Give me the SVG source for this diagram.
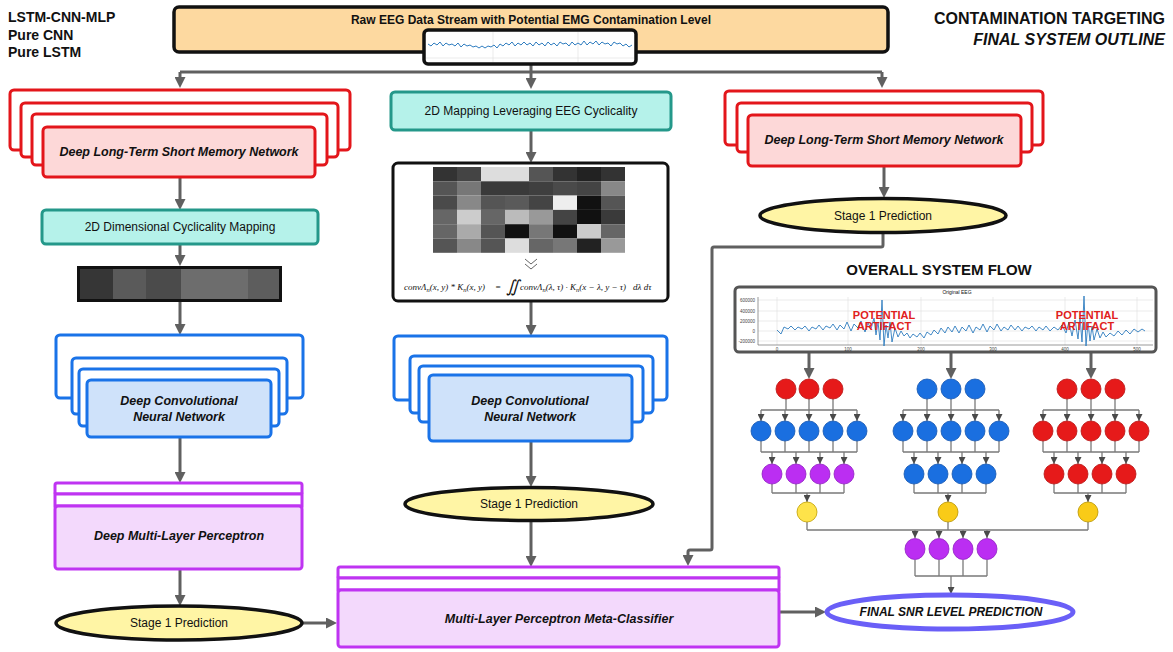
<svg xmlns="http://www.w3.org/2000/svg" width="1173" height="652" viewBox="0 0 1173 652">
<defs>
<style>
text{font-family:"Liberation Sans",Arial,sans-serif;fill:#111}
.b{font-weight:bold}
.bi{font-weight:bold;font-style:italic}
.s12{font-size:12px}
.s125{font-size:12.5px}
.con{stroke:#606060;stroke-width:3;fill:none}
.conA{stroke:#606060;stroke-width:3;fill:none;marker-end:url(#ah)}
.redB{fill:#fff;stroke:#e3161b;stroke-width:3}
.redF{fill:#fdd8d8;stroke:#e3161b;stroke-width:3}
.bluB{fill:#fff;stroke:#1a73e8;stroke-width:3}
.bluF{fill:#cfe2fa;stroke:#1a73e8;stroke-width:3}
.purB{fill:#fff;stroke:#bf34f2;stroke-width:3}
.purF{fill:#f3d9fc;stroke:#bf34f2;stroke-width:3}
.teal{fill:#b5f2ea;stroke:#24988a;stroke-width:3}
.yel{fill:#fff5a5;stroke:#111;stroke-width:3.5}
.nl{stroke:#7a7a7a;stroke-width:1.3;fill:none}
.na{stroke:#7a7a7a;stroke-width:1.3;fill:none;marker-end:url(#sa)}
.nr{fill:#e61a1a;stroke:#b81414;stroke-width:.8}
.nb{fill:#1a6fe0;stroke:#1456b0;stroke-width:.8}
.np{fill:#bb2ef2;stroke:#8f20c2;stroke-width:.8}
.ny{fill:#f9cb18;stroke:#b89400;stroke-width:.8}
.ny1{fill:#fee34a;stroke:#c0a000;stroke-width:.8}
.grid{stroke:#e2e2e2;stroke-width:.7}
.tick{font-size:4.5px;fill:#444}
.fm{font-family:"Liberation Serif","Times New Roman",serif;font-style:italic;font-size:9px}
.art{font-size:11px;font-weight:bold;fill:#e0201c}
</style>
<marker id="ah" markerWidth="11" markerHeight="11" refX="3" refY="5.5" orient="auto" markerUnits="userSpaceOnUse"><path d="M0,0L11,5.5L0,11z" fill="#606060"/></marker>
<marker id="sa" markerWidth="7" markerHeight="7" refX="7" refY="3.5" orient="auto" markerUnits="userSpaceOnUse"><path d="M0,0L7,3.5L0,7z" fill="#4a4a4a"/></marker>
</defs>
<rect width="1173" height="652" fill="#fff"/>

<g id="legend">
<text x="8" y="22" class="b" font-size="14">LSTM-CNN-MLP</text>
<text x="8" y="40" class="b" font-size="14">Pure CNN</text>
<text x="8" y="57" class="b" font-size="14">Pure LSTM</text>
</g>
<g id="title">
<text x="1165" y="24" class="b" font-size="16" text-anchor="end">CONTAMINATION TARGETING</text>
<text x="1165" y="45" class="bi" font-size="16" text-anchor="end">FINAL SYSTEM OUTLINE</text>
</g>

<g id="connectors">
<path class="con" d="M531,64V72M180,72H882"/>
<path class="conA" d="M180,72V80"/>
<path class="conA" d="M531,72V81"/>
<path class="conA" d="M882,72V80"/>
<path class="conA" d="M180,177V202"/>
<path class="conA" d="M180,244V258"/>
<path class="conA" d="M180,302V327"/>
<path class="conA" d="M180,437V475"/>
<path class="conA" d="M180,569V598"/>
<path class="conA" d="M531,130V155"/>
<path class="conA" d="M531,302V328"/>
<path class="conA" d="M531,441V479"/>
<path class="conA" d="M531,520V559"/>
<path class="conA" d="M884,166V190"/>
<path class="conA" d="M883,233V245Q883,247 881,247H714Q712,247 712,249V548Q712,550 710,550H690Q688,550 688,552V558"/>
<path class="conA" d="M302,623H329"/>
<path class="conA" d="M779,612H818"/>
<path class="conA" d="M809,353V371"/>
<path class="conA" d="M951,353V371"/>
<path class="conA" d="M1091,353V371"/>
</g>

<g id="input">
<rect x="174" y="7" width="714" height="45" rx="5" fill="#fdd9a0" stroke="#111" stroke-width="3.5"/>
<text x="531" y="24" class="b s12" text-anchor="middle">Raw EEG Data Stream with Potential EMG Contamination Level</text>
<rect x="424" y="30" width="212" height="34" rx="4" fill="#fff" stroke="#111" stroke-width="3.5"/>
<path class="grid" d="M493,32V62M578,32V62M426,58H634"/>
<polyline fill="none" stroke="#2f7dc0" stroke-width="1" points="428,44 431,46 434,43 437,45 440,42 443,46 446,43 449,45 452,44 455,46 458,43 461,47 464,44 467,46 470,45 473,47 476,46 479,48 482,46 485,48 488,46 491,47 494,45 497,48 500,44 503,46 506,43 509,45 512,42 515,46 518,43 521,45 524,42 527,45 530,43 533,46 536,42 539,45 542,43 545,46 548,42 551,45 554,43 557,46 560,42 563,44 566,43 569,46 572,42 575,45 578,43 581,45 584,41 587,45 590,42 593,44 596,41 599,45 602,42 605,44 608,43 611,46 614,42 617,44 620,43 623,46 626,44 629,47 632,45"/>
</g>

<g id="lstm-left">
<rect class="redB" x="10" y="90" width="340" height="60" rx="4"/>
<rect class="redB" x="21" y="103" width="317" height="54" rx="4"/>
<rect class="redB" x="32" y="114" width="295" height="51" rx="4"/>
<rect class="redF" x="43" y="127" width="272" height="50" rx="4"/>
<text x="179" y="156" class="bi s125" text-anchor="middle">Deep Long-Term Short Memory Network</text>
</g>
<g id="map-left">
<rect class="teal" x="42" y="210" width="276" height="34" rx="4"/>
<text x="180" y="231" class="s12" text-anchor="middle">2D Dimensional Cyclicality Mapping</text>
</g>
<g id="bar-left">
<rect x="77" y="266" width="205" height="36" fill="#111"/>
<rect x="80" y="269" width="33" height="30" fill="#363636"/>
<rect x="113" y="269" width="33" height="30" fill="#5a5a5a"/>
<rect x="146" y="269" width="35" height="30" fill="#4b4b4b"/>
<rect x="181" y="269" width="67" height="30" fill="#6d6d6d"/>
<rect x="248" y="269" width="31" height="30" fill="#5d5d5d"/>
</g>
<g id="cnn-left">
<rect class="bluB" x="56" y="335" width="247" height="63" rx="4"/>
<rect class="bluB" x="72" y="358" width="215" height="56" rx="4"/>
<rect class="bluB" x="79" y="369" width="200" height="57" rx="4"/>
<rect class="bluF" x="87" y="380" width="184" height="57" rx="4"/>
<text x="179" y="405" class="bi s125" text-anchor="middle">Deep Convolutional</text>
<text x="179" y="421" class="bi s125" text-anchor="middle">Neural Network</text>
</g>
<g id="mlp-left">
<rect class="purB" x="55" y="483" width="247" height="11" rx="2"/>
<rect class="purB" x="55" y="494" width="247" height="12"/>
<rect class="purF" x="55" y="506" width="247" height="63" rx="3"/>
<text x="179" y="540" class="bi s125" text-anchor="middle">Deep Multi-Layer Perceptron</text>
</g>
<g id="pred-left">
<ellipse class="yel" cx="179" cy="623" rx="123" ry="17"/>
<text x="179" y="627" class="s12" text-anchor="middle">Stage 1 Prediction</text>
</g>

<g id="map-mid">
<rect class="teal" x="391" y="92" width="280" height="38" rx="4"/>
<text x="531" y="115" class="s12" text-anchor="middle">2D Mapping Leveraging EEG Cyclicality</text>
</g>
<g id="matrix-mid">
<rect x="393" y="163" width="275" height="138" rx="5" fill="#fff" stroke="#111" stroke-width="3"/>
<g>
<rect x="433" y="167" width="24" height="14.3" fill="#333"/><rect x="457" y="167" width="24" height="14.3" fill="#444"/><rect x="481" y="167" width="24" height="14.3" fill="#ddd"/><rect x="505" y="167" width="24" height="14.3" fill="#ddd"/><rect x="529" y="167" width="24" height="14.3" fill="#555"/><rect x="553" y="167" width="24" height="14.3" fill="#333"/><rect x="577" y="167" width="24" height="14.3" fill="#222"/><rect x="601" y="167" width="24" height="14.3" fill="#333"/>
<rect x="433" y="181.3" width="24" height="14.3" fill="#555"/><rect x="457" y="181.3" width="24" height="14.3" fill="#777"/><rect x="481" y="181.3" width="24" height="14.3" fill="#3a3a3a"/><rect x="505" y="181.3" width="24" height="14.3" fill="#3a3a3a"/><rect x="529" y="181.3" width="24" height="14.3" fill="#3f3f3f"/><rect x="553" y="181.3" width="24" height="14.3" fill="#4a4a4a"/><rect x="577" y="181.3" width="24" height="14.3" fill="#444"/><rect x="601" y="181.3" width="24" height="14.3" fill="#888"/>
<rect x="433" y="195.6" width="24" height="14.3" fill="#4a4a4a"/><rect x="457" y="195.6" width="24" height="14.3" fill="#888"/><rect x="481" y="195.6" width="24" height="14.3" fill="#555"/><rect x="505" y="195.6" width="24" height="14.3" fill="#5a5a5a"/><rect x="529" y="195.6" width="24" height="14.3" fill="#444"/><rect x="553" y="195.6" width="24" height="14.3" fill="#eee"/><rect x="577" y="195.6" width="24" height="14.3" fill="#111"/><rect x="601" y="195.6" width="24" height="14.3" fill="#555"/>
<rect x="433" y="209.9" width="24" height="14.3" fill="#666"/><rect x="457" y="209.9" width="24" height="14.3" fill="#ccc"/><rect x="481" y="209.9" width="24" height="14.3" fill="#666"/><rect x="505" y="209.9" width="24" height="14.3" fill="#bbb"/><rect x="529" y="209.9" width="24" height="14.3" fill="#999"/><rect x="553" y="209.9" width="24" height="14.3" fill="#444"/><rect x="577" y="209.9" width="24" height="14.3" fill="#111"/><rect x="601" y="209.9" width="24" height="14.3" fill="#3a3a3a"/>
<rect x="433" y="224.2" width="24" height="14.3" fill="#666"/><rect x="457" y="224.2" width="24" height="14.3" fill="#aaa"/><rect x="481" y="224.2" width="24" height="14.3" fill="#555"/><rect x="505" y="224.2" width="24" height="14.3" fill="#111"/><rect x="529" y="224.2" width="24" height="14.3" fill="#777"/><rect x="553" y="224.2" width="24" height="14.3" fill="#111"/><rect x="577" y="224.2" width="24" height="14.3" fill="#ccc"/><rect x="601" y="224.2" width="24" height="14.3" fill="#666"/>
<rect x="433" y="238.5" width="24" height="14.3" fill="#555"/><rect x="457" y="238.5" width="24" height="14.3" fill="#888"/><rect x="481" y="238.5" width="24" height="14.3" fill="#555"/><rect x="505" y="238.5" width="24" height="14.3" fill="#ddd"/><rect x="529" y="238.5" width="24" height="14.3" fill="#666"/><rect x="553" y="238.5" width="24" height="14.3" fill="#777"/><rect x="577" y="238.5" width="24" height="14.3" fill="#222"/><rect x="601" y="238.5" width="24" height="14.3" fill="#999"/>
</g>
<path d="M525,259L531,264L537,259M525,264L531,269L537,264" fill="none" stroke="#666" stroke-width="1"/>
<text class="fm" y="290"><tspan x="404">convΛ</tspan><tspan font-size="6.5" dy="2">n</tspan><tspan dy="-2">(x, y) * K</tspan><tspan font-size="6.5" dy="2">n</tspan><tspan dy="-2">(x, y)</tspan><tspan x="495">=</tspan><tspan x="506" font-size="17" dy="2">∬</tspan><tspan x="520" dy="-2">convΛ</tspan><tspan font-size="6.5" dy="2">n</tspan><tspan dy="-2">(λ, τ) · K</tspan><tspan font-size="6.5" dy="2">n</tspan><tspan dy="-2">(x − λ, y − τ)</tspan><tspan x="633">dλ dτ</tspan></text>
</g>
<g id="cnn-mid">
<rect class="bluB" x="394" y="336" width="273" height="64" rx="4"/>
<rect class="bluB" x="410" y="356" width="243" height="57" rx="4"/>
<rect class="bluB" x="419" y="366" width="224" height="56" rx="4"/>
<rect class="bluF" x="429" y="375" width="203" height="66" rx="4"/>
<text x="530" y="405" class="bi s125" text-anchor="middle">Deep Convolutional</text>
<text x="530" y="421" class="bi s125" text-anchor="middle">Neural Network</text>
</g>
<g id="pred-mid">
<ellipse class="yel" cx="529" cy="504" rx="124" ry="16.5"/>
<text x="529" y="508" class="s12" text-anchor="middle">Stage 1 Prediction</text>
</g>
<g id="meta">
<rect class="purB" x="338" y="567" width="441" height="11" rx="2"/>
<rect class="purB" x="338" y="578" width="441" height="12"/>
<rect class="purF" x="338" y="590" width="441" height="57" rx="3"/>
<text x="559" y="623" class="bi s125" text-anchor="middle">Multi-Layer Perceptron Meta-Classifier</text>
</g>

<g id="lstm-right">
<rect class="redB" x="725" y="91" width="318" height="54" rx="4"/>
<rect class="redB" x="737" y="103" width="295" height="49" rx="4"/>
<rect class="redF" x="748" y="115" width="273" height="51" rx="4"/>
<text x="884" y="144" class="bi s125" text-anchor="middle">Deep Long-Term Short Memory Network</text>
</g>
<g id="pred-right">
<ellipse class="yel" cx="883" cy="215.5" rx="123" ry="17"/>
<text x="883" y="220" class="s12" text-anchor="middle">Stage 1 Prediction</text>
</g>

<g id="flow-title">
<text x="939" y="275" class="b" font-size="15" text-anchor="middle">OVERALL SYSTEM FLOW</text>
</g>
<g id="eeg-chart">
<rect x="735" y="287" width="421" height="65" rx="4" fill="#fff" stroke="#555" stroke-width="3"/>
<path class="grid" d="M777,297V345M848,297V345M921,297V345M993,297V345M1065,297V345M1137,297V345M758,300H1153M758,311H1153M758,321H1153M758,331H1153M758,341H1153"/>
<path d="M758,297V345H1153" fill="none" stroke="#555" stroke-width=".6"/>
<text x="957" y="294" font-size="5" fill="#333" text-anchor="middle">Original EEG</text>
<text class="tick" x="755" y="302" text-anchor="end">600000</text>
<text class="tick" x="755" y="313" text-anchor="end">400000</text>
<text class="tick" x="755" y="323" text-anchor="end">200000</text>
<text class="tick" x="755" y="333" text-anchor="end">0</text>
<text class="tick" x="755" y="343" text-anchor="end">-200000</text>
<text class="tick" x="777" y="350.5" text-anchor="middle">0</text>
<text class="tick" x="848" y="350.5" text-anchor="middle">100</text>
<text class="tick" x="921" y="350.5" text-anchor="middle">200</text>
<text class="tick" x="993" y="350.5" text-anchor="middle">300</text>
<text class="tick" x="1065" y="350.5" text-anchor="middle">400</text>
<text class="tick" x="1137" y="350.5" text-anchor="middle">500</text>
<polyline fill="none" stroke="#2f7dc0" stroke-width="0.9" points="777,330 781,334 784,327 788,329 791,326 795,330 798,327 802,329 805,326 809,331 812,327 816,329 819,325 823,330 826,326 830,328 833,324 837,330 840,325 844,329 847,322 851,331 854,324 858,328 861,321 865,332 868,323 871,329 874,318 876,335 878,322 880,340 882,300 884,346 886,325 888,338 890,322 892,342 895,328 898,337 901,331 904,336 907,333 910,338 913,334 917,337 920,333 924,338 927,332 931,335 934,330 938,334 941,328 945,333 948,327 952,332 955,326 959,333 962,327 966,331 969,325 973,333 976,327 980,330 983,324 987,332 990,326 994,330 997,324 1001,331 1004,327 1008,330 1011,325 1015,330 1018,326 1022,331 1025,327 1029,329 1032,326 1036,331 1039,327 1043,330 1046,326 1050,331 1054,327 1058,330 1062,325 1066,333 1069,322 1072,336 1075,320 1078,339 1080,318 1082,342 1084,296 1086,346 1088,322 1090,341 1092,326 1094,340 1097,329 1100,338 1103,332 1106,337 1110,333 1114,336 1118,331 1122,335 1126,330 1130,334 1134,329 1138,332 1142,329 1145,331"/>
<text class="art" x="884" y="319" text-anchor="middle">POTENTIAL</text>
<text class="art" x="884" y="330" text-anchor="middle">ARTIFACT</text>
<text class="art" x="1087" y="319" text-anchor="middle">POTENTIAL</text>
<text class="art" x="1087" y="330" text-anchor="middle">ARTIFACT</text>
</g>

<g id="net-edges">
<path class="nl" d="M786,399V410M809,399V410M833,399V410M761,410H857"/>
<path class="na" d="M761,410V421"/><path class="na" d="M785,410V421"/><path class="na" d="M809,410V421"/><path class="na" d="M833,410V421"/><path class="na" d="M857,410V421"/>
<path class="nl" d="M761,441V452M785,441V452M809,441V452M833,441V452M857,441V452M761,452H857"/>
<path class="na" d="M772,452V464"/><path class="na" d="M796,452V464"/><path class="na" d="M820,452V464"/><path class="na" d="M844,452V464"/>
<path class="nl" d="M772,484V493M796,484V493M820,484V493M844,484V493M772,493H844"/>
<path class="na" d="M807,493V502"/>
<path class="nl" d="M927,399V410M951,399V410M975,399V410M903,410H999"/>
<path class="na" d="M903,410V421"/><path class="na" d="M927,410V421"/><path class="na" d="M951,410V421"/><path class="na" d="M975,410V421"/><path class="na" d="M999,410V421"/>
<path class="nl" d="M903,441V452M927,441V452M951,441V452M975,441V452M999,441V452M903,452H999"/>
<path class="na" d="M914,452V464"/><path class="na" d="M938,452V464"/><path class="na" d="M962,452V464"/><path class="na" d="M986,452V464"/>
<path class="nl" d="M914,484V493M938,484V493M962,484V493M986,484V493M914,493H986"/>
<path class="na" d="M948,493V502"/>
<path class="nl" d="M1067,399V410M1091,399V410M1115,399V410M1043,410H1139"/>
<path class="na" d="M1043,410V421"/><path class="na" d="M1067,410V421"/><path class="na" d="M1091,410V421"/><path class="na" d="M1115,410V421"/><path class="na" d="M1139,410V421"/>
<path class="nl" d="M1043,441V452M1067,441V452M1091,441V452M1115,441V452M1139,441V452M1043,452H1139"/>
<path class="na" d="M1054,452V464"/><path class="na" d="M1078,452V464"/><path class="na" d="M1102,452V464"/><path class="na" d="M1126,452V464"/>
<path class="nl" d="M1054,484V493M1078,484V493M1102,484V493M1126,484V493M1054,493H1126"/>
<path class="na" d="M1088,493V502"/>
<path class="nl" d="M807,522V530M948,522V530M1088,522V530M807,530H1088"/>
<path class="na" d="M915,530V538"/><path class="na" d="M939,530V538"/><path class="na" d="M963,530V538"/><path class="na" d="M987,530V538"/>
<path class="nl" d="M915,560V576M939,560V576M963,560V576M987,560V576M915,576H987"/>
<path class="na" d="M951,576V594"/>
</g>

<g id="net-col1">
<circle class="nr" cx="786" cy="389" r="10"/><circle class="nr" cx="809" cy="389" r="10"/><circle class="nr" cx="833" cy="389" r="10"/>
<circle class="nb" cx="761" cy="431" r="10"/><circle class="nb" cx="785" cy="431" r="10"/><circle class="nb" cx="809" cy="431" r="10"/><circle class="nb" cx="833" cy="431" r="10"/><circle class="nb" cx="857" cy="431" r="10"/>
<circle class="np" cx="772" cy="474" r="10"/><circle class="np" cx="796" cy="474" r="10"/><circle class="np" cx="820" cy="474" r="10"/><circle class="np" cx="844" cy="474" r="10"/>
<circle class="ny1" cx="807" cy="512" r="10"/>
</g>
<g id="net-col2">
<circle class="nb" cx="927" cy="389" r="10"/><circle class="nb" cx="951" cy="389" r="10"/><circle class="nb" cx="975" cy="389" r="10"/>
<circle class="nb" cx="903" cy="431" r="10"/><circle class="nb" cx="927" cy="431" r="10"/><circle class="nb" cx="951" cy="431" r="10"/><circle class="nb" cx="975" cy="431" r="10"/><circle class="nb" cx="999" cy="431" r="10"/>
<circle class="nb" cx="914" cy="474" r="10"/><circle class="nb" cx="938" cy="474" r="10"/><circle class="nb" cx="962" cy="474" r="10"/><circle class="nb" cx="986" cy="474" r="10"/>
<circle class="ny" cx="948" cy="512" r="10"/>
</g>
<g id="net-col3">
<circle class="nr" cx="1067" cy="389" r="10"/><circle class="nr" cx="1091" cy="389" r="10"/><circle class="nr" cx="1115" cy="389" r="10"/>
<circle class="nr" cx="1043" cy="431" r="10"/><circle class="nr" cx="1067" cy="431" r="10"/><circle class="nr" cx="1091" cy="431" r="10"/><circle class="nr" cx="1115" cy="431" r="10"/><circle class="nr" cx="1139" cy="431" r="10"/>
<circle class="nr" cx="1054" cy="474" r="10"/><circle class="nr" cx="1078" cy="474" r="10"/><circle class="nr" cx="1102" cy="474" r="10"/><circle class="nr" cx="1126" cy="474" r="10"/>
<circle class="ny" cx="1088" cy="512" r="10"/>
</g>
<g id="net-out">
<ellipse class="np" cx="915" cy="549" rx="10" ry="10.5"/><ellipse class="np" cx="939" cy="549" rx="10" ry="10.5"/><ellipse class="np" cx="963" cy="549" rx="10" ry="10.5"/><ellipse class="np" cx="987" cy="549" rx="10" ry="10.5"/>
</g>

<g id="final">
<ellipse cx="950" cy="612" rx="123" ry="17" fill="#fff" stroke="#6a5ff7" stroke-width="5"/>
<text x="951" y="616" class="bi s12" text-anchor="middle">FINAL SNR LEVEL PREDICTION</text>
</g>
</svg>
